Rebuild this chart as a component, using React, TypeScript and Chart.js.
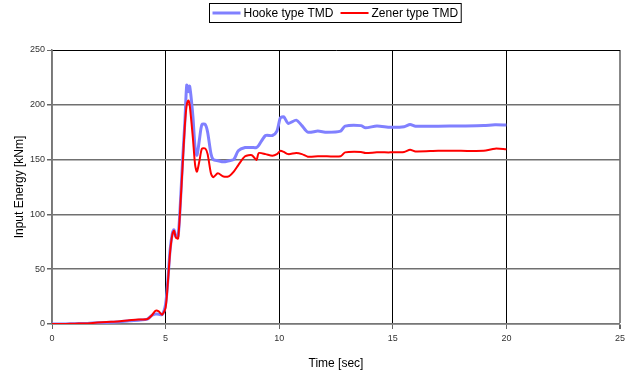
import React, { useEffect, useRef } from "react";
import { Chart, registerables } from "chart.js";

Chart.register(...registerables);

const timeSec = [
  0, 0.5, 1.0, 1.5, 1.8, 2.2, 2.6, 3.0, 3.4, 3.8, 4.2, 4.4, 4.55, 4.7, 4.85,
  5.0, 5.1, 5.2, 5.3, 5.37, 5.45, 5.55, 5.65, 5.75, 5.85, 5.93, 6.0, 6.06,
  6.2, 6.3, 6.38, 6.5, 6.6, 6.75, 6.85, 7.0, 7.1, 7.3, 7.55, 7.8, 8.0, 8.2,
  8.5, 8.8, 9.0, 9.1, 9.4, 9.7, 9.9, 10.05, 10.2, 10.4, 10.75, 11.0, 11.26,
  11.7, 12.1, 12.7, 12.9, 13.6, 13.8, 14.3, 14.9, 15.5, 15.76, 16.0, 17.0,
  18.0, 19.0, 19.5, 20.0,
];

const hookeEnergy = [
  0, 0, 0.3, 0.5, 1, 1.2, 1.5, 2, 3, 3.5, 4.5, 8, 9, 9, 8.5,
  18, 40, 68, 83, 86, 80, 80, 110, 150, 185, 218, 212, 217,
  190, 160, 154, 170, 182, 182, 175, 155, 150, 149, 148, 149, 150, 158,
  161, 161, 161, 163, 172, 172, 176, 188, 189, 183, 186, 181, 175,
  176, 175, 176, 180.5, 181, 179, 180.7, 179.5, 180, 182, 180.5, 180.5,
  180.7, 181, 181.7, 181.5,
];

const zenerEnergy = [
  0, 0, 0.3, 0.5, 1, 1.5, 2, 2.5, 3.5, 4, 4.5, 8, 12, 11.5, 8.5,
  15, 38, 66, 82, 85, 79, 78, 108, 145, 182, 200, 204, 200,
  170, 145, 139, 150, 160, 160, 155, 137, 134, 137.5, 134.5, 135, 139, 145,
  153, 154, 149.6, 156, 155, 153.6, 155, 158, 157, 155, 156, 155, 152.7,
  153, 153, 153, 156.6, 157, 156, 156.6, 156.6, 157, 159, 157.5, 158,
  158, 158, 160, 159.5,
];

const seriesNames = ["Hooke type TMD", "Zener type TMD"];
const xTitle = "Time [sec]";
const yTitle = "Input Energy [kNm]";

const BLUE = "rgb(128,128,255)";
const RED = "rgb(255,0,0)";

const legendPlugin = {
  id: "boxLegend",
  afterDraw(chart: any) {
    const ctx = chart.ctx as CanvasRenderingContext2D;
    ctx.save();
    ctx.font = "12px 'Liberation Sans', Arial, sans-serif";
    const w1 = ctx.measureText(seriesNames[0]).width;
    const w2 = ctx.measureText(seriesNames[1]).width;
    const sample = 28;
    const gap = 3;
    const between = 7;
    const pad = 3;
    const total = pad + sample + gap + w1 + between + sample + gap + w2 + pad;
    const cx = (chart.chartArea.left + chart.chartArea.right) / 2;
    const x0 = Math.round(cx - total / 2 - 1) + 0.5;
    const y0 = 3.5;
    const h = 19;
    ctx.strokeStyle = "#000";
    ctx.lineWidth = 1;
    ctx.strokeRect(x0, y0, total, h);
    const my = y0 + h / 2;
    let x = x0 + pad;
    ctx.strokeStyle = BLUE;
    ctx.lineWidth = 3;
    ctx.beginPath();
    ctx.moveTo(x, my);
    ctx.lineTo(x + sample, my);
    ctx.stroke();
    x += sample + gap;
    ctx.fillStyle = "#000";
    ctx.textBaseline = "middle";
    ctx.textAlign = "left";
    ctx.fillText(seriesNames[0], x, my + 0.5);
    x += w1 + between;
    ctx.strokeStyle = RED;
    ctx.lineWidth = 2;
    ctx.beginPath();
    ctx.moveTo(x, my);
    ctx.lineTo(x + sample, my);
    ctx.stroke();
    x += sample + gap;
    ctx.fillText(seriesNames[1], x, my + 0.5);
    ctx.restore();
  },
};

export default function App() {
  const ref = useRef<HTMLCanvasElement>(null);
  useEffect(() => {
    if (!ref.current) return;
    const font = { family: "'Liberation Sans', Arial, sans-serif" };
    const chart = new Chart(ref.current, {
      type: "line",
      data: {
        datasets: [
          {
            label: seriesNames[0],
            data: timeSec.map((t, i) => ({ x: t, y: hookeEnergy[i] })),
            borderColor: BLUE,
            borderWidth: 3,
            pointRadius: 0,
            tension: 0.25,
            fill: false,
            order: 1,
          },
          {
            label: seriesNames[1],
            data: timeSec.map((t, i) => ({ x: t, y: zenerEnergy[i] })),
            borderColor: RED,
            borderWidth: 2,
            pointRadius: 0,
            tension: 0.25,
            fill: false,
            order: 0,
          },
        ],
      },
      options: {
        responsive: false,
        animation: false,
        layout: { padding: { left: 0, right: 5, top: 50, bottom: 0 } },
        plugins: {
          legend: { display: false },
          tooltip: { enabled: false },
        },
        scales: {
          x: {
            type: "linear",
            min: 0,
            max: 25,
            afterFit: (s: any) => {
              s.height = 51;
            },
            ticks: {
              stepSize: 5,
              color: "#333",
              font: { ...font, size: 9 },
              padding: 4,
              maxRotation: 0,
            },
            grid: {
              color: (c: any) =>
                c.tick && (c.tick.value === 25 || c.tick.value === 0) ? "#888" : "#000",
              lineWidth: (c: any) => (c.tick && c.tick.value === 25 ? 2 : 1),
              tickColor: "#666",
              tickLength: 5,
            },
            border: { color: "#777", width: 1.5 },
            title: {
              display: true,
              text: xTitle,
              color: "#000",
              font: { ...font, size: 12 },
              padding: { top: 0, bottom: 4 },
            },
          },
          y: {
            min: 0,
            max: 250,
            afterFit: (s: any) => {
              s.width = 52;
            },
            ticks: {
              stepSize: 50,
              color: "#333",
              font: { ...font, size: 9 },
              padding: 2,
            },
            grid: {
              color: (c: any) => (c.tick && c.tick.value === 250 ? "#000" : "#707070"),
              lineWidth: (c: any) => (c.tick && c.tick.value === 250 ? 1 : 1.5),
              tickColor: "#666",
              tickLength: 5,
            },
            border: { color: "#777", width: 1.5 },
            title: {
              display: true,
              text: yTitle,
              color: "#000",
              font: { ...font, size: 12 },
              padding: { top: 12, bottom: 0 },
            },
          },
        },
      },
      plugins: [legendPlugin],
    });
    return () => chart.destroy();
  }, []);
  return (
    <div style={{ position: "absolute", left: 0, top: 0, width: 629, height: 375, background: "#fff" }}>
      <canvas ref={ref} width={629} height={375} />
    </div>
  );
}
